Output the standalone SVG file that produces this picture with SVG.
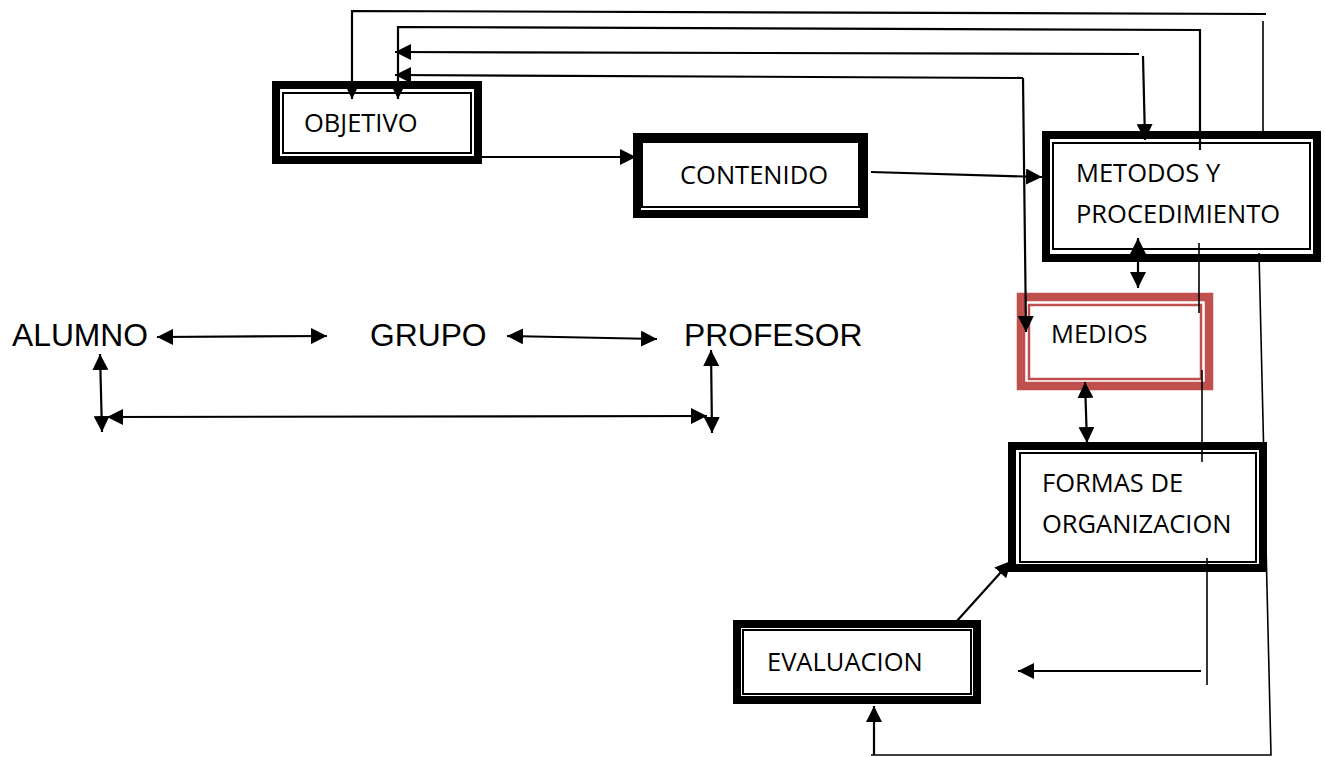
<svg xmlns="http://www.w3.org/2000/svg" width="1325" height="757" viewBox="0 0 1325 757">
<style>
.ob{fill:#fff;stroke:#000;stroke-width:8}
.ib{fill:none;stroke:#000;stroke-width:2}
.obr{fill:#fff;stroke:#C0504D;stroke-width:8.5}
.ibr{fill:none;stroke:#C0504D;stroke-width:2.5}
.c{fill:none;stroke:#000;stroke-width:2.2}
.t{fill:none;stroke:#000;stroke-width:1.6}
.a{marker-end:url(#ah)}
.d{marker-start:url(#ah);marker-end:url(#ah)}
.lbl{font-family:"Open Sans","Liberation Sans",sans-serif;font-size:25.5px;fill:#000}
.big{font-family:"Liberation Sans",Arial,sans-serif;font-size:31.8px;fill:#000}
</style>
<defs>
<marker id="ah" markerUnits="userSpaceOnUse" markerWidth="16" markerHeight="16" refX="16" refY="8" orient="auto-start-reverse" viewBox="0 0 16 16">
<path d="M0,0 L16,8 L0,16 z" fill="#000"/>
</marker>
</defs>
<rect width="1325" height="757" fill="#fff"/>

<g id="objetivo">
<rect class="ob" x="276" y="85" width="202" height="75"/>
<rect class="ib" x="283" y="93" width="188" height="60"/>
<text class="lbl" x="304" y="132">OBJETIVO</text>
</g>
<g id="contenido">
<rect class="ob" x="637" y="137" width="227" height="77"/>
<rect class="ib" x="642" y="142" width="217" height="65"/>
<text class="lbl" x="680" y="184">CONTENIDO</text>
</g>
<g id="metodos">
<rect class="ob" x="1046" y="135" width="271" height="123"/>
<rect class="ib" x="1053" y="143" width="257" height="106"/>
<text class="lbl" x="1076" y="182">METODOS Y</text>
<text class="lbl" x="1076" y="223">PROCEDIMIENTO</text>
</g>
<g id="medios">
<rect class="obr" x="1021" y="297" width="188" height="89"/>
<rect class="ibr" x="1029" y="305" width="172" height="74"/>
<text class="lbl" x="1051" y="343">MEDIOS</text>
</g>
<g id="formas">
<rect class="ob" x="1012" y="446" width="251" height="122"/>
<rect class="ib" x="1020" y="453" width="236" height="109"/>
<text class="lbl" x="1042" y="492">FORMAS DE</text>
<text class="lbl" x="1042" y="533">ORGANIZACION</text>
</g>
<g id="evaluacion">
<rect class="ob" x="737" y="624" width="240" height="76"/>
<rect class="ib" x="743" y="630" width="228" height="64"/>
<text class="lbl" x="767" y="671">EVALUACION</text>
</g>
<g id="alumno"><text class="big" x="12" y="346">ALUMNO</text></g>
<g id="grupo"><text class="big" x="370" y="346">GRUPO</text></g>
<g id="profesor"><text class="big" x="684" y="346">PROFESOR</text></g>

<g id="connectors">
<path class="c a" d="M1266,14 L352,11 L352,99"/>
<path class="t" d="M1263,21 L1263,139"/>
<path class="t" d="M1259,253 L1271,755 L871,755"/>
<path class="c a" d="M874,755 L874,706"/>
<path class="c a" d="M1200,150 L1200,30 L398,27 L398,99"/>
<path class="t" d="M1199,243 L1199,313"/>
<path class="t" d="M1202,370 L1202,462"/>
<path class="t" d="M1207,558 L1207,685"/>
<path class="c a" d="M1201,671 L1018,671"/>
<path class="c a" d="M1139,54 L395,52"/>
<path class="c a" d="M1143,56 L1145,140"/>
<path class="c a" d="M1023,78 L395,75"/>
<path class="c a" d="M1023,78 L1026,332"/>
<path class="c a" d="M482,157 L636,157"/>
<path class="c a" d="M871,172 L1042,177"/>
<path class="c d" d="M1138,238 L1138,288"/>
<path class="c d" d="M1085,382 L1087,443"/>
<path class="c a" d="M956,622 L1011,561"/>
<path class="c d" d="M157,337 L327,336"/>
<path class="c d" d="M507,336 L657,339"/>
<path class="c d" d="M100,354 L102,432"/>
<path class="c d" d="M107,417 L707,416"/>
<path class="c d" d="M711,350 L712,433"/>
</g>
</svg>
